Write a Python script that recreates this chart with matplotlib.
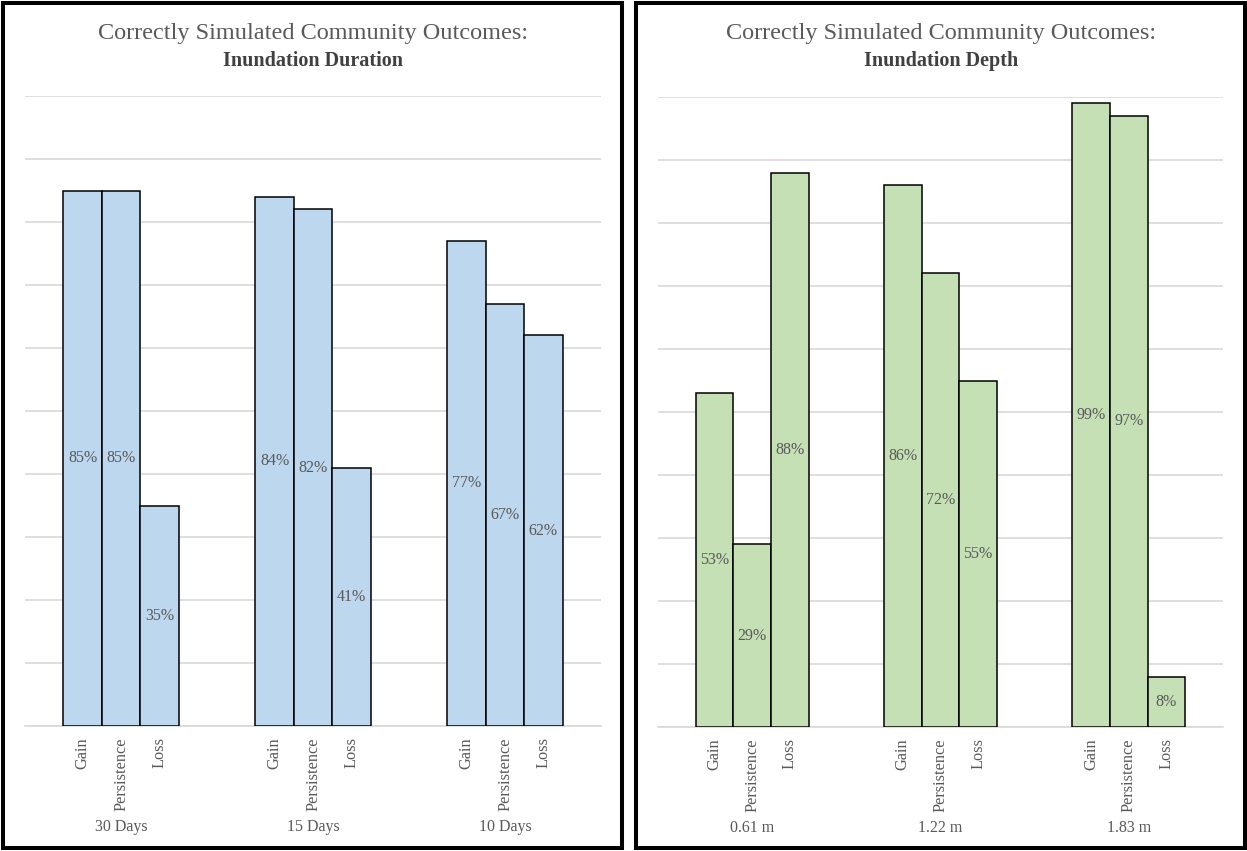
import matplotlib.pyplot as plt
from matplotlib.patches import Rectangle
from matplotlib.transforms import blended_transform_factory

plt.rcParams["font.family"] = ["Liberation Serif", "DejaVu Serif"]

OUTCOMES = ["Gain", "Persistence", "Loss"]

DURATION_GROUPS = ["30 Days", "15 Days", "10 Days"]
DURATION_VALUES = {
    "Gain": [85, 84, 77],
    "Persistence": [85, 82, 67],
    "Loss": [35, 41, 62],
}

DEPTH_GROUPS = ["0.61 m", "1.22 m", "1.83 m"]
DEPTH_VALUES = {
    "Gain": [53, 86, 99],
    "Persistence": [29, 72, 97],
    "Loss": [88, 55, 8],
}

TEXT_GRAY = "#595959"
GRID_GRAY = "#d9d9d9"
W, H = 1247, 851


def frac(x0, y0, x1, y1):
    # pixel box (top-left origin) -> figure fraction rect
    return [x0 / W, 1 - y1 / H, (x1 - x0) / W, (y1 - y0) / H]


def panel(fig, rect, groups, values, color, subtitle, title_x):
    ax = fig.add_axes(rect)
    width = 0.2
    offsets = [-width, 0, width]
    ticks, tick_labels = [], []
    for off, name in zip(offsets, OUTCOMES):
        xs = [i + off for i in range(len(groups))]
        bars = ax.bar(xs, values[name], width=width, color=color,
                      edgecolor="black", linewidth=1.1, zorder=3)
        for bar, v in zip(bars, values[name]):
            ax.text(bar.get_x() + bar.get_width() / 2, v / 2, f"{v}%",
                    ha="center", va="center", fontsize=11.5,
                    color=TEXT_GRAY, zorder=4)
        ticks += xs
        tick_labels += [name] * len(groups)

    ax.set_xlim(-0.5, len(groups) - 0.5)
    ax.set_ylim(0, 100)
    ax.set_yticks(range(0, 101, 10))
    ax.yaxis.grid(True, color=GRID_GRAY, linewidth=1.2, zorder=0)
    ax.tick_params(axis="y", left=False, labelleft=False)
    ax.set_xticks(ticks)
    ax.set_xticklabels(tick_labels, rotation=90, fontsize=11.8,
                       color=TEXT_GRAY, va="top")
    ax.tick_params(axis="x", length=0, pad=8)
    for side in ["top", "right", "left"]:
        ax.spines[side].set_visible(False)
    ax.spines["bottom"].set_color(GRID_GRAY)
    ax.spines["bottom"].set_linewidth(1.2)

    trans = blended_transform_factory(ax.transData, ax.transAxes)
    for i, g in enumerate(groups):
        ax.text(i, -0.160, g, transform=trans, ha="center", va="center",
                fontsize=11.5, color=TEXT_GRAY)

    fig.text(title_x / W, 1 - 33 / H, "Correctly Simulated Community Outcomes:",
             ha="center", va="center", fontsize=17.5, color=TEXT_GRAY)
    fig.text(title_x / W, 1 - 61 / H, subtitle, ha="center", va="center",
             fontsize=14.5, fontweight="bold", color="#404040")
    return ax


fig = plt.figure(figsize=(W / 100, H / 100), dpi=100)

panel(fig, frac(25, 96, 601, 726), DURATION_GROUPS, DURATION_VALUES,
      "#bdd7ee", "Inundation Duration", 313)
panel(fig, frac(658, 97, 1223, 727), DEPTH_GROUPS, DEPTH_VALUES,
      "#c5e0b4", "Inundation Depth", 941)

# black frames around each panel
for x0, x1 in [(3, 622), (636, 1245)]:
    fig.patches.append(Rectangle((x0 / W, 3 / H), (x1 - x0) / W, (H - 6) / H,
                                 transform=fig.transFigure, fill=False,
                                 edgecolor="black", linewidth=2.9))

fig.savefig("out.png", dpi=100)
